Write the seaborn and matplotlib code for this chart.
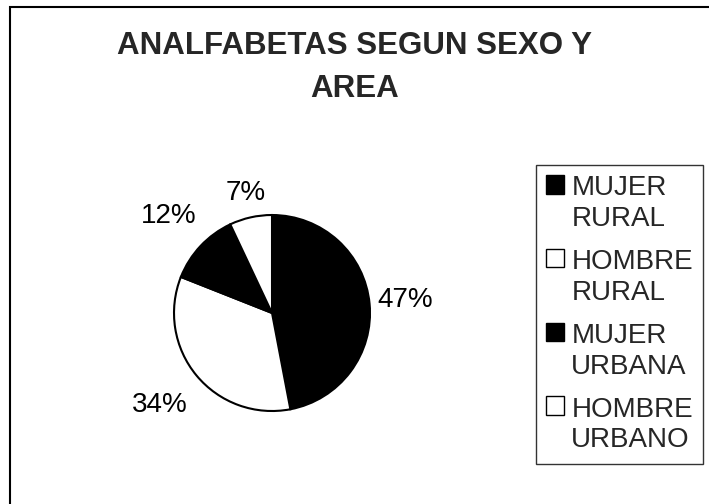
import matplotlib
matplotlib.use("Agg")
import numpy as np
import matplotlib.pyplot as plt
import seaborn as sns
from matplotlib.patches import Rectangle
from matplotlib.legend_handler import HandlerPatch

# Data
categories = ["MUJER\nRURAL", "HOMBRE\nRURAL", "MUJER\nURBANA", "HOMBRE\nURBANO"]
values = [47, 34, 12, 7]
slice_colors = ["black", "white", "black", "white"]
title = "ANALFABETAS SEGUN SEXO Y\nAREA"

# distance of each percentage label from the centre (in radii)
label_dist = [1.36, 1.48, 1.44, 1.25]

sns.set_style("white")
plt.rcParams['font.family'] = ['Liberation Sans', 'DejaVu Sans']

fig = plt.figure(figsize=(7.09, 5.04), dpi=100)
ax = fig.add_axes([0.1763, 0.0873, 0.4147, 0.5833])

wedges, texts = ax.pie(values, colors=slice_colors, startangle=90, counterclock=False,
                       wedgeprops={'edgecolor': 'black', 'linewidth': 1.5})

# percentage labels outside the pie, centred on their spot
for w, v, d in zip(wedges, values, label_dist):
    ang = np.deg2rad((w.theta1 + w.theta2) / 2)
    ax.text(d * np.cos(ang), d * np.sin(ang), f"{v}%", ha='center', va='center',
            fontsize=20, color='black')

ax.set_xlim(-1.5, 1.5)
ax.set_ylim(-1.5, 1.5)
ax.set_aspect('equal')
ax.axis('off')

fig.text(0.5, 0.866, title, ha='center', va='center', fontsize=22.5, fontweight='bold',
         linespacing=1.55)


# legend squares sit next to the first line of each two-line label
def first_line_square(legend, orig_handle, xdescent, ydescent, width, height, fontsize):
    shift = 0.7 * fontsize
    return Rectangle((-xdescent, -ydescent + shift), width, height)


leg = fig.legend(wedges, categories, loc='upper left', bbox_to_anchor=(536 / 709, 1 - 165 / 504),
                 frameon=True, fancybox=False, edgecolor='black', fontsize=20,
                 handlelength=0.65, handleheight=0.65, handletextpad=0.25,
                 labelspacing=0.61, borderpad=0.37, borderaxespad=0.0,
                 handler_map={w: HandlerPatch(patch_func=first_line_square) for w in wedges})
leg.get_frame().set_linewidth(1.0)
for t in leg.get_texts():
    t.set_linespacing(1.24)
for h in leg.legend_handles:
    h.set_linewidth(1.0)

# outer chart border (cropped on the right and bottom)
fig.patches.append(Rectangle((10 / 709, -0.1), 1.2, (504 - 7) / 504 + 0.1,
                             transform=fig.transFigure, fill=False,
                             edgecolor='black', linewidth=1.5))

fig.savefig("out.png", dpi=100)
